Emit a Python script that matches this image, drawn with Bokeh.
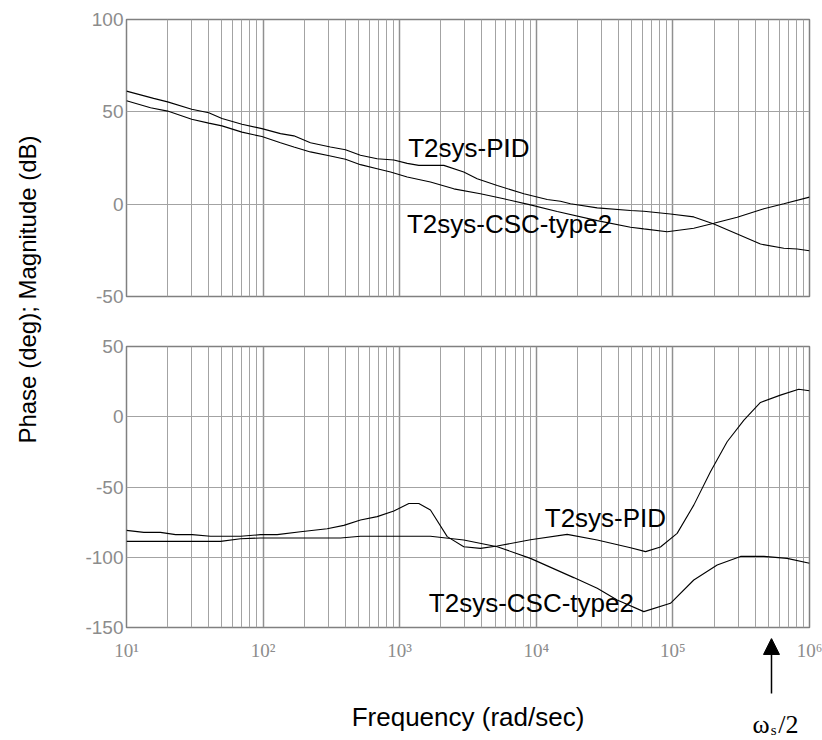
import math
from bokeh.plotting import figure
from bokeh.layouts import row, column
from bokeh.models import (FixedTicker, Label, LabelSet, Arrow, NormalHead, Range1d,
                          ColumnDataSource)
from bokeh.embed import file_html
from bokeh.resources import INLINE

# ---------------- data ----------------
freq_ticks = [10, 100, 1000, 10000, 100000, 1000000]
freq_tick_labels = ["10\u00b9", "10\u00b2", "10\u00b3", "10\u2074", "10\u2075", "10\u2076"]
minor_freq_ticks = [m * 10 ** k for k in range(1, 6) for m in range(2, 10)]
mag_ticks = [-50, 0, 50, 100]
phase_ticks = [-150, -100, -50, 0, 50]

mag_pid_freq = [10, 15.8, 20, 30, 40, 50, 70, 98, 134, 168, 222, 311, 401, 516, 684, 906,
                1135, 1380, 2104, 2944, 3690, 5176, 8110, 12020, 15030, 17780, 27930,
                48980, 61240, 95940, 142200, 199500, 295800, 437500, 648600, 812800, 1000000]
mag_pid_db = [61.2, 57.3, 55.4, 51.4, 49.5, 46.4, 43.3, 40.9, 38.2, 37.0, 33.3, 31.0, 29.5,
              26.5, 24.6, 23.9, 22.1, 21.0, 21.0, 17.4, 13.8, 10.1, 5.6, 2.5, 1.6, 0.2, -2.0,
              -3.4, -3.8, -5.3, -6.9, -10.7, -16.1, -21.6, -23.9, -24.3, -25.2]

mag_csc_freq = [10, 15, 20, 30, 40, 50, 70, 98, 134, 168, 222, 311, 401, 516, 684, 857, 1135,
                1679, 2489, 3899, 5781, 9057, 14220, 27930, 48980, 61240, 90780, 142200,
                199500, 295800, 463400, 648600, 1000000]
mag_csc_db = [56.0, 52.2, 50.4, 46.0, 43.9, 42.4, 39.0, 36.6, 33.3, 31.0, 28.3, 26.1, 24.3,
              21.4, 19.2, 17.4, 14.7, 12.0, 8.3, 5.6, 2.9, -0.4, -4.0, -8.9, -12.5, -13.4,
              -14.9, -13.0, -10.3, -7.1, -2.5, 0.2, 3.8]

phase_pid_freq = [10, 13.4, 17.7, 22.9, 30.3, 41.2, 68.4, 95.7, 126.8, 187.9, 294.4, 389.9,
                  516.4, 683.9, 905.7, 1167, 1380, 1679, 2228, 2944, 3899, 5176, 9057, 16830,
                  27930, 48980, 63100, 81100, 107400, 142200, 188400, 249500, 331100, 437500,
                  612300, 833700, 1000000]
phase_pid_deg = [-80.9, -82.3, -82.3, -83.9, -83.9, -85.1, -85.1, -83.9, -83.9, -81.8, -79.7,
                 -77.3, -73.5, -71.1, -67.1, -61.7, -61.7, -66.4, -85.3, -92.5, -93.7, -92.0,
                 -87.5, -83.7, -87.7, -93.2, -96.0, -92.7, -83.0, -62.9, -39.1, -17.8, -2.4,
                 10.2, 15.4, 19.6, 18.5]

phase_csc_freq = [10, 48.8, 68.4, 95.7, 369, 516, 1679, 2944, 5176, 9057, 18790, 27930, 39080,
                  61240, 95940, 142200, 210900, 312600, 463400, 685500, 1000000]
phase_csc_deg = [-88.7, -88.7, -86.8, -86.3, -86.3, -85.1, -85.1, -87.7, -92.5, -100.8, -114.5,
                 -122.1, -130.4, -138.7, -132.8, -116.2, -105.5, -99.4, -99.4, -100.8, -104.3]

nyquist_freq = 5.27e5

# ---------------- geometry / styling ----------------
SANS = "Liberation Sans"
SERIF = "Liberation Serif"
GRID = "#a3a3a3"
FRAME = "#808080"
TICKTXT = "#8c8c8c"
TICK_FS = "19px"
LEFT_W = 60          # width of the y-label strip
FIG_W = 822 - LEFT_W
BORDER_L, BORDER_R = 66, 13
FRAME_W = FIG_W - BORDER_L - BORDER_R
DEC = FRAME_W / 5.0  # pixels per decade
PH_PX = 281 / 200.0  # pixels per degree in the phase panel
BOT_PAD = 11         # space below the phase frame inside its canvas


def style_panel(p, yticks):
    p.background_fill_color = "white"
    p.border_fill_color = "white"
    p.outline_line_color = FRAME
    p.outline_line_width = 1.5
    xt = FixedTicker(ticks=freq_ticks, minor_ticks=minor_freq_ticks)
    p.xgrid.ticker = xt
    p.xgrid.grid_line_color = "#909090"
    p.xgrid.grid_line_width = 1.5
    p.xgrid.minor_grid_line_color = GRID
    p.xgrid.minor_grid_line_width = 1
    yt = FixedTicker(ticks=yticks)
    p.ygrid.ticker = yt
    p.ygrid.grid_line_color = GRID
    p.ygrid.grid_line_width = 1
    p.yaxis.ticker = yt
    p.yaxis.major_label_overrides = {t: str(t) for t in yticks}
    p.yaxis.axis_line_color = None
    p.yaxis.major_tick_line_color = None
    p.yaxis.minor_tick_line_color = None
    p.yaxis.major_tick_out = 0
    p.yaxis.major_tick_in = 0
    p.yaxis.minor_tick_out = 0
    p.yaxis.major_label_standoff = 3
    p.yaxis.major_label_text_font = SANS
    p.yaxis.major_label_text_font_size = TICK_FS
    p.yaxis.major_label_text_color = TICKTXT


def curve_label(p, x, y, text):
    p.add_layout(Label(x=x, y=y, text=text, text_font=SANS, text_font_size="26px",
                       text_color="black", text_align="left", text_baseline="middle"))


# ---------------- magnitude panel ----------------
top = figure(width=FIG_W, height=320, x_axis_type="log", x_range=(10, 1e6), y_range=(-50, 100),
             x_axis_location=None, toolbar_location=None, output_backend="svg",
             min_border_left=BORDER_L, min_border_right=BORDER_R, min_border_top=19,
             min_border_bottom=24)
style_panel(top, mag_ticks)
top.line(mag_pid_freq, mag_pid_db, line_color="black", line_width=1.1)
top.line(mag_csc_freq, mag_csc_db, line_color="black", line_width=1.1)
curve_label(top, 1153, 30.2, "T2sys-PID")
curve_label(top, 1130, -11.0, "T2sys-CSC-type2")

# ---------------- phase panel ----------------
bot = figure(width=FIG_W, height=307 + BOT_PAD, x_axis_type="log", x_range=(10, 1e6),
             y_range=(-150, 50), x_axis_location=None, toolbar_location=None,
             output_backend="svg", min_border_left=BORDER_L, min_border_right=BORDER_R,
             min_border_top=26, min_border_bottom=BOT_PAD)
style_panel(bot, phase_ticks)
bot.line(phase_pid_freq, phase_pid_deg, line_color="black", line_width=1.1)
bot.line(phase_csc_freq, phase_csc_deg, line_color="black", line_width=1.1)
curve_label(bot, 11530, -72.1, "T2sys-PID")
curve_label(bot, 1633, -132.6, "T2sys-CSC-type2")

# ---------------- frequency axis strip (continues the phase scale below the panel) ----------------
strip_h = 740 - 320 - (307 + BOT_PAD)
y_top = -150 - BOT_PAD / PH_PX
y_bot = y_top - strip_h / PH_PX
strip = figure(width=FIG_W, height=strip_h, x_axis_type="log",
               x_range=Range1d(10 ** (1 - BORDER_L / DEC), 10 ** (6 + BORDER_R / DEC)),
               y_range=Range1d(y_bot, y_top), x_axis_location=None, y_axis_location=None,
               toolbar_location=None, output_backend="svg", min_border=0)
strip.frame_align = False
strip.grid.visible = False
strip.outline_line_color = None
strip.background_fill_color = "white"
strip.border_fill_color = "white"

tick_src = ColumnDataSource(dict(x=freq_ticks, text=freq_tick_labels))
strip.add_layout(LabelSet(x="x", y=y_top, y_offset=-1, text="text", source=tick_src,
                          text_font=SANS, text_font_size=TICK_FS, text_color=TICKTXT,
                          text_align="center", text_baseline="top"))
strip.add_layout(Label(x=10 ** 3.5, y=-213.6, text="Frequency (rad/sec)", text_font=SANS,
                       text_font_size="26px", text_color="black", text_align="center",
                       text_baseline="middle"))
strip.add_layout(Arrow(end=NormalHead(size=16, fill_color="black", line_color="black",
                                      line_width=1),
                       x_start=nyquist_freq, y_start=-197.0, x_end=nyquist_freq, y_end=-157.8,
                       line_color="black", line_width=1.5))
strip.add_layout(Label(x=382900, y=-219.2, text="\u03c9", text_font=SERIF,
                       text_font_size="26px", text_color="black", text_align="left",
                       text_baseline="middle"))
strip.add_layout(Label(x=520000, y=-222.6, text="s", text_font=SERIF, text_font_size="15px",
                       text_color="black", text_align="left", text_baseline="middle"))
strip.add_layout(Label(x=590000, y=-219.2, text="/2", text_font=SERIF, text_font_size="26px",
                       text_color="black", text_align="left", text_baseline="middle"))

# ---------------- shared y label ----------------
lab = figure(width=LEFT_W, height=740, x_range=Range1d(0, LEFT_W), y_range=Range1d(0, 740),
             x_axis_location=None, y_axis_location=None, toolbar_location=None,
             output_backend="svg", min_border=0)
lab.frame_align = False
lab.grid.visible = False
lab.outline_line_color = None
lab.background_fill_color = "white"
lab.border_fill_color = "white"
lab.add_layout(Label(x=27, y=451, text="Phase (deg); Magnitude (dB)", angle=math.pi / 2,
                     text_font=SANS, text_font_size="24px", text_color="black",
                     text_align="center", text_baseline="middle"))

layout = row(lab, column(top, bot, strip))
open("out.html", "w").write(file_html(layout, INLINE))
